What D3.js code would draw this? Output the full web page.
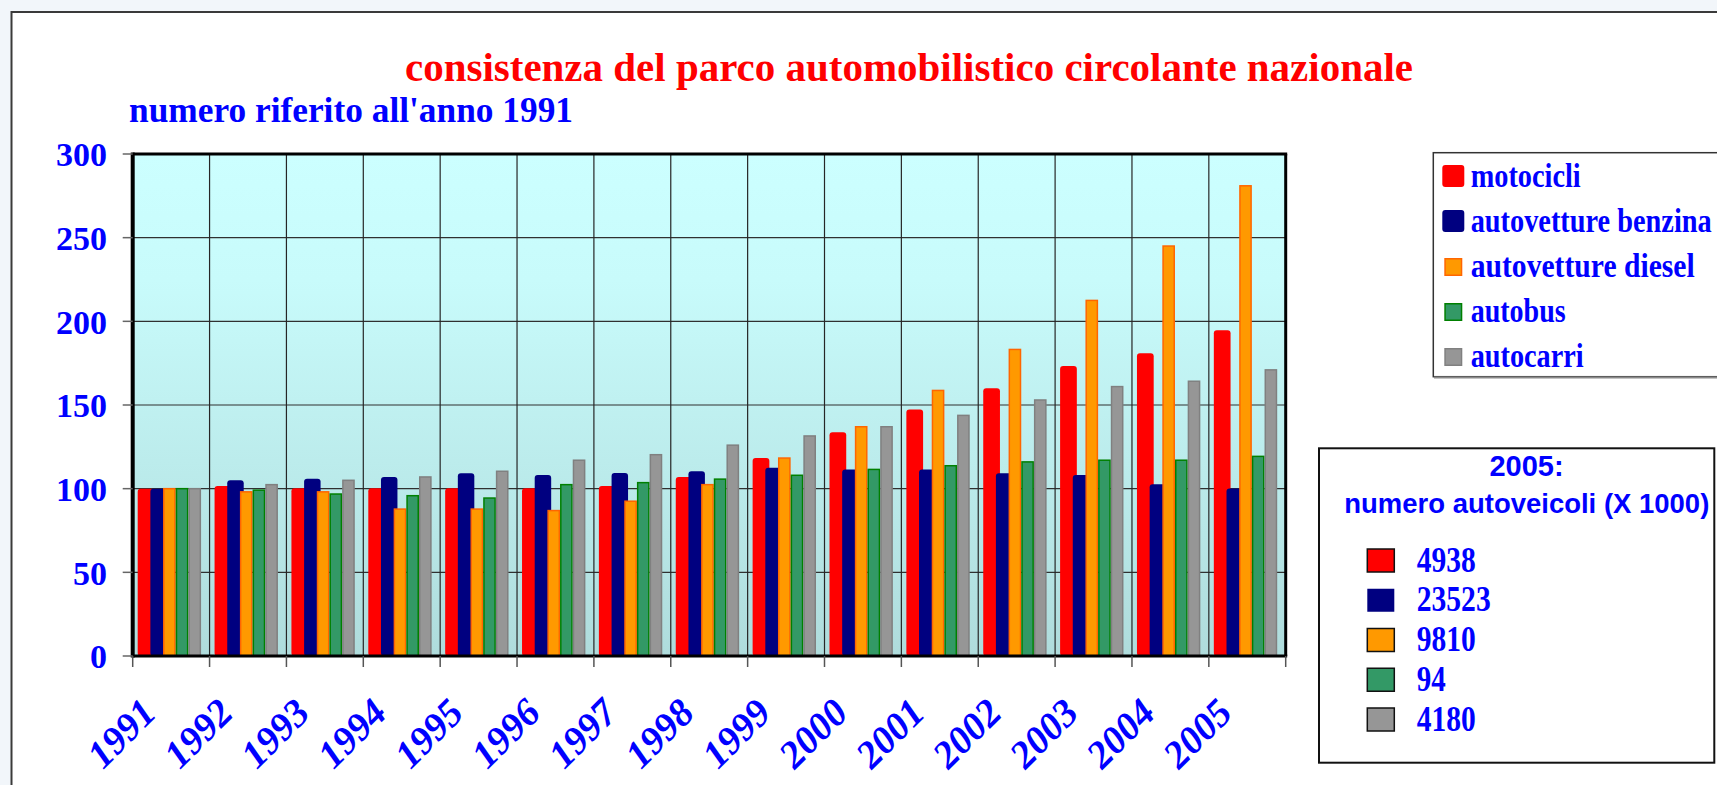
<!DOCTYPE html>
<html>
<head>
<meta charset="utf-8">
<script src="https://cdn.jsdelivr.net/npm/d3@7/dist/d3.min.js"></script>
<style>
  html, body { margin: 0; padding: 0; background: #f2f6fa; }
  svg { display: block; }
</style>
</head>
<body>
<svg id="chart" width="1717" height="785"></svg>
<script>
// ---------- DATA ----------
const years = ["1991","1992","1993","1994","1995","1996","1997","1998","1999","2000","2001","2002","2003","2004","2005"];
const seriesNames = ["motocicli","autovetture benzina","autovetture diesel","autobus","autocarri"];
const motocicli = [100, 101.6, 100.2, 100.2, 100.2, 100.2, 101.6, 107, 118.3, 133.7, 147.3, 160, 173.3, 181, 194.6];
const benzina   = [100, 105, 106, 107, 109.2, 108.2, 109.4, 110.4, 112.5, 111.5, 111.5, 109.2, 108.2, 102.6, 100.1];
const diesel    = [100, 98.1, 98.1, 87.8, 87.8, 86.9, 92.5, 102.4, 118.3, 137, 158.7, 183.2, 212.5, 245, 281];
const autobus   = [100, 99.1, 96.8, 95.8, 94.4, 102.4, 103.6, 105.7, 108, 111.5, 113.7, 116, 117, 117, 119.3];
const autocarri = [100, 102.4, 105, 107, 110.4, 117, 120.3, 126, 131.5, 137, 143.8, 153, 161, 164.2, 171];
const yTicks = [0, 50, 100, 150, 200, 250, 300];
const totals2005 = ["4938", "23523", "9810", "94", "4180"];
const titleText = "consistenza del parco automobilistico circolante nazionale";
const subtitleText = "numero riferito all'anno 1991";
const box2Title = "2005:";
const box2Sub = "numero autoveicoli (X 1000)";

// ---------- STYLES ----------
const fills   = ["#ff0000", "#000080", "#ff9900", "#339966", "#969696"];
const strokes = [null, null, "#ff6600", "#008000", "#808080"];
const widthMul = [1.32, 1.3, 1.0, 1.0, 1.0];
const serif = "'Liberation Serif', 'Times New Roman', serif";
const sans = "'Liberation Sans', Arial, sans-serif";
const blue = "#0000ff";

const seriesValues = [motocicli, benzina, diesel, autobus, autocarri];

const svg = d3.select("#chart");

// page background + frame
svg.append("rect").attr("x", 0).attr("y", 0).attr("width", 1717).attr("height", 785).attr("fill", "#f2f6fa");
svg.append("rect").attr("x", 11.5).attr("y", 12).attr("width", 1800).attr("height", 900)
  .attr("fill", "#ffffff").attr("stroke", "#3a3a3a").attr("stroke-width", 2);

// titles
svg.append("text").attr("x", 909).attr("y", 80.7).attr("text-anchor", "middle")
  .attr("font-family", serif).attr("font-weight", "bold").attr("font-size", 41)
  .attr("fill", "#ff0000").attr("textLength", 1008).attr("lengthAdjust", "spacingAndGlyphs")
  .text(titleText);
svg.append("text").attr("x", 129).attr("y", 121.7)
  .attr("font-family", serif).attr("font-weight", "bold").attr("font-size", 36)
  .attr("fill", blue).attr("textLength", 444).attr("lengthAdjust", "spacingAndGlyphs")
  .text(subtitleText);

// ---------- PLOT ----------
const plotL = 132.7, plotR = 1285.7, plotT = 154, plotB = 656;
const x = d3.scaleBand().domain(years).range([plotL, plotR]).padding(0);
const bw = x.bandwidth();
const sub = d3.scaleBand().domain(seriesNames).range([bw * 5 / 76.9, bw * 68.4 / 76.9]).padding(0);
const y = d3.scaleLinear().domain([0, 300]).range([plotB, plotT]);

const defs = svg.append("defs");
const grad = defs.append("linearGradient").attr("id", "bg").attr("x1", 0).attr("y1", 0).attr("x2", 0).attr("y2", 1);
grad.append("stop").attr("offset", "0%").attr("stop-color", "#ccffff");
grad.append("stop").attr("offset", "25%").attr("stop-color", "#c8fbfb");
grad.append("stop").attr("offset", "100%").attr("stop-color", "#afdcdc");

svg.append("rect").attr("x", plotL).attr("y", plotT).attr("width", plotR - plotL).attr("height", plotB - plotT)
  .attr("fill", "url(#bg)");

// horizontal gridlines
svg.append("g").selectAll("line").data(yTicks.filter(t => t > 0 && t < 300)).join("line")
  .attr("x1", plotL).attr("x2", plotR).attr("y1", d => y(d)).attr("y2", d => y(d))
  .attr("stroke", "#303030").attr("stroke-width", 1.2);
// vertical gridlines
svg.append("g").selectAll("line").data(years.slice(1)).join("line")
  .attr("x1", d => x(d)).attr("x2", d => x(d)).attr("y1", plotT).attr("y2", plotB)
  .attr("stroke", "#262626").attr("stroke-width", 1.2);

// bars
seriesNames.forEach((name, si) => {
  const w = sub.bandwidth() * widthMul[si];
  const g = svg.append("g");
  g.selectAll("rect").data(years.map((yr, i) => ({ yr, v: seriesValues[si][i] }))).join("rect")
    .attr("x", d => x(d.yr) + sub(name) + (strokes[si] ? 0.75 : 0))
    .attr("y", d => y(d.v))
    .attr("width", strokes[si] ? w - 1.5 : w)
    .attr("height", d => plotB - y(d.v))
    .attr("rx", strokes[si] ? 0 : 3)
    .attr("fill", fills[si])
    .attr("stroke", strokes[si] || "none")
    .attr("stroke-width", strokes[si] ? 1.5 : 0);
});

// frame of plot
svg.append("line").attr("x1", plotL).attr("x2", plotR + 1.5).attr("y1", plotT).attr("y2", plotT).attr("stroke", "#000").attr("stroke-width", 3);
svg.append("line").attr("x1", plotR).attr("x2", plotR).attr("y1", plotT).attr("y2", plotB).attr("stroke", "#000").attr("stroke-width", 3);
svg.append("line").attr("x1", plotL).attr("x2", plotR + 1.5).attr("y1", plotB).attr("y2", plotB).attr("stroke", "#000").attr("stroke-width", 3);
svg.append("line").attr("x1", plotL).attr("x2", plotL).attr("y1", plotT - 1.5).attr("y2", plotB + 1.5).attr("stroke", "#000").attr("stroke-width", 4);

// y axis ticks + labels
const yAx = svg.append("g");
yAx.selectAll("line").data(yTicks).join("line")
  .attr("x1", plotL - 10).attr("x2", plotL).attr("y1", d => y(d)).attr("y2", d => y(d))
  .attr("stroke", "#666").attr("stroke-width", 1.5);
yAx.selectAll("text").data(yTicks).join("text")
  .attr("x", 107).attr("y", d => y(d)).attr("dy", "0.36em").attr("text-anchor", "end")
  .attr("font-family", serif).attr("font-weight", "bold").attr("font-size", 34).attr("fill", blue)
  .text(d => d);

// x axis ticks
const xTickPos = years.map(d => x(d)).concat([plotR]);
svg.append("g").selectAll("line").data(xTickPos).join("line")
  .attr("x1", d => d).attr("x2", d => d).attr("y1", plotB).attr("y2", plotB + 11)
  .attr("stroke", "#555").attr("stroke-width", 1.5);

// x labels
svg.append("g").selectAll("text").data(years).join("text")
  .attr("transform", d => `translate(${x(d) + bw / 2 - 13},${715}) rotate(-45)`)
  .attr("text-anchor", "end")
  .attr("font-family", serif).attr("font-weight", "bold").attr("font-style", "italic")
  .attr("font-size", 39).attr("fill", blue)
  .text(d => d);

// ---------- LEGEND 1 ----------
svg.append("rect").attr("x", 1433.3).attr("y", 152.7).attr("width", 400).attr("height", 224)
  .attr("fill", "#fff").attr("stroke", "#333").attr("stroke-width", 1.5);
svg.append("line").attr("x1", 1434).attr("x2", 1717).attr("y1", 377.5).attr("y2", 377.5)
  .attr("stroke", "#8a8a8a").attr("stroke-width", 2);
const leg1 = d3.scalePoint().domain(seriesNames).range([186.7, 366.7]);
const legLen = [110, 241, 224, 95, 113];
seriesNames.forEach((name, i) => {
  const big = !strokes[i];
  const s = big ? 22 : 18;
  svg.append("rect")
    .attr("x", big ? 1442.3 : 1444.3 + 0.75).attr("y", leg1(name) - (big ? 21.7 : 18.7) + (big ? 0 : 0.75))
    .attr("width", big ? s : s - 1.5).attr("height", big ? s : s - 1.5)
    .attr("rx", big ? 3 : 0)
    .attr("fill", fills[i]).attr("stroke", strokes[i] || "none").attr("stroke-width", big ? 0 : 1.5);
  svg.append("text").attr("x", 1470.7).attr("y", leg1(name))
    .attr("font-family", serif).attr("font-weight", "bold").attr("font-size", 34).attr("fill", blue)
    .attr("textLength", legLen[i]).attr("lengthAdjust", "spacingAndGlyphs")
    .text(name);
});

// ---------- LEGEND 2 ----------
svg.append("rect").attr("x", 1319).attr("y", 448.3).attr("width", 395.3).attr("height", 314.4)
  .attr("fill", "#fff").attr("stroke", "#111").attr("stroke-width", 2);
svg.append("text").attr("x", 1526.5).attr("y", 475.7).attr("text-anchor", "middle")
  .attr("font-family", sans).attr("font-weight", "bold").attr("font-size", 29).attr("fill", blue)
  .text(box2Title);
svg.append("text").attr("x", 1526.8).attr("y", 513.3).attr("text-anchor", "middle")
  .attr("font-family", sans).attr("font-weight", "bold").attr("font-size", 28).attr("fill", blue)
  .attr("textLength", 365).attr("lengthAdjust", "spacingAndGlyphs")
  .text(box2Sub);
const leg2 = d3.scalePoint().domain(seriesNames).range([571.7, 730.7]);
const valLen = [59, 74, 59, 29, 59];
seriesNames.forEach((name, i) => {
  const hasStroke = i !== 1;
  svg.append("rect").attr("x", 1367.3).attr("y", leg2(name) - 22.7).attr("width", 27).attr("height", 23)
    .attr("fill", fills[i]).attr("stroke", hasStroke ? "#111" : "none").attr("stroke-width", hasStroke ? 1.5 : 0);
  svg.append("text").attr("x", 1416.7).attr("y", leg2(name))
    .attr("font-family", serif).attr("font-weight", "bold").attr("font-size", 35).attr("fill", blue)
    .attr("textLength", valLen[i]).attr("lengthAdjust", "spacingAndGlyphs")
    .text(totals2005[i]);
});
</script>
</body>
</html>
